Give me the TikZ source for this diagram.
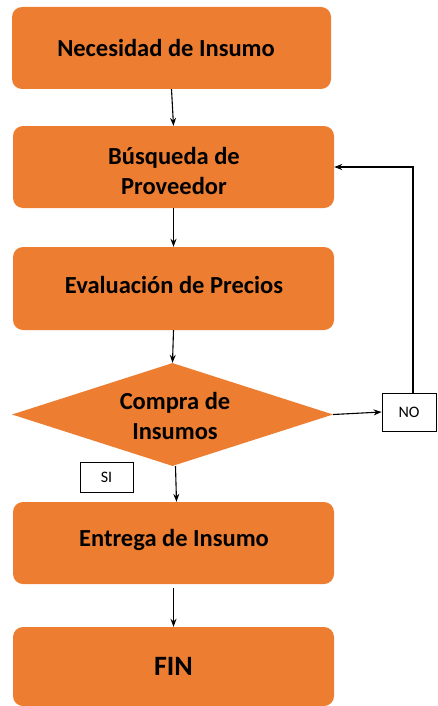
\documentclass[tikz,border=0pt]{standalone}
\usepackage{fontspec}
\setmainfont{Carlito}
\usetikzlibrary{shapes.geometric,arrows.meta}
\definecolor{boxorange}{HTML}{ED7D31}
\tikzset{
  stepbox/.style={fill=boxorange, draw=none, rounded corners=10pt, minimum width=321pt, minimum height=82pt, inner sep=0pt, align=center, font=\fontsize{24.5}{30}\selectfont\bfseries},
  steptext/.style={inner sep=0pt, align=center, font=\fontsize{24.5}{30}\selectfont\bfseries},
  decbox/.style={diamond, fill=boxorange, draw=none, aspect=3.1, minimum width=321pt, minimum height=103pt, inner sep=0pt, align=center},
  labbox/.style={draw=black, fill=white, line width=0.8pt, inner sep=0pt, font=\fontsize{16}{18}\selectfont},
  arr/.style={draw=black, line width=1.1pt, -{Stealth[length=8pt,width=6pt]}}
}
\begin{document}
\begin{tikzpicture}[x=1pt,y=1pt]
\useasboundingbox (0,0) rectangle (437,-706);
\node[stepbox, minimum width=319pt] (b1) at (171.5,-48) {};
\node[steptext] (b1t) at (166,-48) {Necesidad de Insumo};
\node[stepbox] (b2) at (173.5,-167) {};
\node[steptext] (b2t) at (174,-171) {Búsqueda de\\Proveedor};
\node[stepbox, minimum height=83pt] (b3) at (173.5,-288.5) {};
\node[steptext] (b3t) at (174,-285) {Evaluación de Precios};
\node[decbox] (d) at (172.5,-414.5) {};
\node[steptext] (dt) at (175,-416) {Compra de\\Insumos};
\node[labbox, minimum width=54pt, minimum height=38pt] (no) at (409,-412) {NO};
\node[labbox, minimum width=53pt, minimum height=30pt] (si) at (106.5,-477) {SI};
\node[stepbox] (b4) at (173.5,-543) {};
\node[steptext] (b4t) at (174,-540) {Entrega de Insumo};
\node[stepbox, minimum height=79pt, font=\fontsize{28}{30}\selectfont\bfseries] (b5) at (173.5,-666.5) {FIN};
\draw[arr] (b1.south) -- (b2.north);
\draw[arr] (b2.south) -- (b3.north);
\draw[arr] (b3.south) -- (d.north);
\draw[arr] (d.east) -- (no.west);
\draw[arr] ([xshift=4pt]no.north) |- (b2.east);
\draw[arr] ([xshift=3pt]d.south) -- ([xshift=3pt]b4.north);
\draw[arr] ([yshift=-4pt]b4.south) -- (b5.north);
\end{tikzpicture}
\end{document}
